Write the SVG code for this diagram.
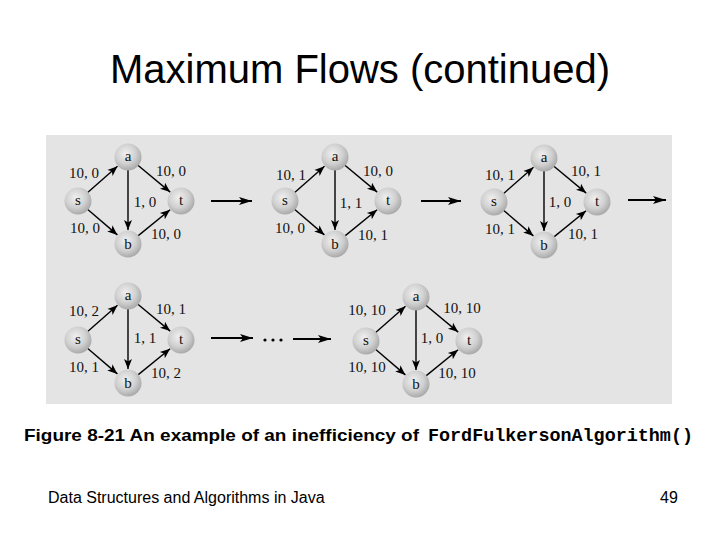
<svg xmlns="http://www.w3.org/2000/svg" width="720" height="540" viewBox="0 0 720 540">
<style>
.title{font-family:"Liberation Sans",Arial,sans-serif;font-size:40px;fill:#000}
.cap{font-family:"Liberation Sans",Arial,sans-serif;font-size:17px;font-weight:bold;fill:#000}
.code{font-family:"Liberation Mono","Courier New",monospace;font-size:18px;font-weight:bold;fill:#000}
.foot{font-family:"Liberation Sans",Arial,sans-serif;font-size:16px;fill:#000}
.lbl{font-family:"Liberation Serif","Times New Roman",serif;font-size:15px;fill:#111;text-anchor:middle}
.nl{font-family:"Liberation Serif","Times New Roman",serif;font-size:15px;fill:#111;text-anchor:middle}
.e{stroke:#000;stroke-width:1.4;fill:none;marker-end:url(#ah)}
.big{stroke:#000;stroke-width:2.2;fill:none;marker-end:url(#bh)}
.nd{fill:url(#sph)}
</style>
<defs>
<radialGradient id="sph" cx="0.42" cy="0.38" r="0.62">
<stop offset="0" stop-color="#f0f0f0"/>
<stop offset="0.6" stop-color="#d0d0d0"/>
<stop offset="1" stop-color="#aaaaaa"/>
</radialGradient>
<marker id="ah" markerUnits="userSpaceOnUse" markerWidth="12" markerHeight="10" viewBox="0 0 12 10" refX="10" refY="5" orient="auto">
<path d="M0,1 L10,5 L0,9 L2.5,5 Z" fill="#000"/>
</marker>
<marker id="bh" markerUnits="userSpaceOnUse" markerWidth="14" markerHeight="10" viewBox="0 0 14 10" refX="13" refY="5" orient="auto">
<path d="M0,1 L13,5 L0,9 L3,5 Z" fill="#000"/>
</marker>
<g id="edges-t">
<line class="e" x1="-40.6" y1="35.7" x2="-10.5" y2="9.3"/>
<line class="e" x1="9.6" y1="8" x2="42.2" y2="35.1"/>
<line class="e" x1="-40.5" y1="52.2" x2="-10.6" y2="77.9"/>
<line class="e" x1="9.7" y1="79.1" x2="42.1" y2="52.8"/>
<line class="e" x1="0" y1="12.5" x2="0" y2="73"/>
</g>
</defs>

<text class="title" x="360" y="83" text-anchor="middle">Maximum Flows (continued)</text>

<rect x="46" y="135" width="626" height="269" fill="#e4e4e4"/>

<g id="connectors">
<use href="#edges-t" transform="translate(128,157)"/>
<use href="#edges-t" transform="translate(335,157)"/>
<use href="#edges-t" transform="translate(544,158)"/>
<use href="#edges-t" transform="translate(128,296)"/>
<use href="#edges-t" transform="translate(416,297)"/>
<line class="big" x1="211" y1="201" x2="252" y2="201"/>
<line class="big" x1="421" y1="201" x2="461" y2="201"/>
<line class="big" x1="628" y1="200" x2="666" y2="200"/>
<line class="big" x1="211" y1="338" x2="253" y2="338"/>
<line class="big" x1="293" y1="339" x2="331" y2="339"/>
<circle cx="265" cy="340" r="1.6" fill="#000"/>
<circle cx="273" cy="340" r="1.6" fill="#000"/>
<circle cx="281" cy="340" r="1.6" fill="#000"/>
</g>

<g id="g1" transform="translate(128,157)">
<g id="g1-a"><circle class="nd" cx="0" cy="0" r="13.5"/><text class="nl" x="0" y="4">a</text></g>
<g id="g1-s"><circle class="nd" cx="-50" cy="44" r="13.5"/><text class="nl" x="-50" y="48">s</text></g>
<g id="g1-t"><circle class="nd" cx="53" cy="44" r="13.5"/><text class="nl" x="53" y="48">t</text></g>
<g id="g1-b"><circle class="nd" cx="0" cy="87" r="13.5"/><text class="nl" x="0" y="92">b</text></g>
<text class="lbl" x="-44" y="21">10, 0</text>
<text class="lbl" x="43" y="19">10, 0</text>
<text class="lbl" x="17" y="50">1, 0</text>
<text class="lbl" x="-43" y="76">10, 0</text>
<text class="lbl" x="38" y="82">10, 0</text>
</g>

<g id="g2" transform="translate(335,157)">
<g id="g2-a"><circle class="nd" cx="0" cy="0" r="13.5"/><text class="nl" x="0" y="4">a</text></g>
<g id="g2-s"><circle class="nd" cx="-50" cy="44" r="13.5"/><text class="nl" x="-50" y="48">s</text></g>
<g id="g2-t"><circle class="nd" cx="53" cy="44" r="13.5"/><text class="nl" x="53" y="48">t</text></g>
<g id="g2-b"><circle class="nd" cx="0" cy="87" r="13.5"/><text class="nl" x="0" y="92">b</text></g>
<text class="lbl" x="-44" y="23">10, 1</text>
<text class="lbl" x="43" y="19">10, 0</text>
<text class="lbl" x="16" y="51">1, 1</text>
<text class="lbl" x="-45" y="76">10, 0</text>
<text class="lbl" x="38" y="83">10, 1</text>
</g>

<g id="g3" transform="translate(544,158)">
<g id="g3-a"><circle class="nd" cx="0" cy="0" r="13.5"/><text class="nl" x="0" y="4">a</text></g>
<g id="g3-s"><circle class="nd" cx="-50" cy="44" r="13.5"/><text class="nl" x="-50" y="48">s</text></g>
<g id="g3-t"><circle class="nd" cx="53" cy="44" r="13.5"/><text class="nl" x="53" y="48">t</text></g>
<g id="g3-b"><circle class="nd" cx="0" cy="87" r="13.5"/><text class="nl" x="0" y="92">b</text></g>
<text class="lbl" x="-44" y="22">10, 1</text>
<text class="lbl" x="42" y="18">10, 1</text>
<text class="lbl" x="16" y="49">1, 0</text>
<text class="lbl" x="-44" y="76">10, 1</text>
<text class="lbl" x="39" y="81">10, 1</text>
</g>

<g id="g4" transform="translate(128,296)">
<g id="g4-a"><circle class="nd" cx="0" cy="0" r="13.5"/><text class="nl" x="0" y="4">a</text></g>
<g id="g4-s"><circle class="nd" cx="-50" cy="44" r="13.5"/><text class="nl" x="-50" y="48">s</text></g>
<g id="g4-t"><circle class="nd" cx="53" cy="44" r="13.5"/><text class="nl" x="53" y="48">t</text></g>
<g id="g4-b"><circle class="nd" cx="0" cy="87" r="13.5"/><text class="nl" x="0" y="92">b</text></g>
<text class="lbl" x="-44" y="20">10, 2</text>
<text class="lbl" x="43" y="18">10, 1</text>
<text class="lbl" x="17" y="47">1, 1</text>
<text class="lbl" x="-44" y="76">10, 1</text>
<text class="lbl" x="38" y="82">10, 2</text>
</g>

<g id="g5" transform="translate(416,297)">
<g id="g5-a"><circle class="nd" cx="0" cy="0" r="13.5"/><text class="nl" x="0" y="4">a</text></g>
<g id="g5-s"><circle class="nd" cx="-50" cy="44" r="13.5"/><text class="nl" x="-50" y="48">s</text></g>
<g id="g5-t"><circle class="nd" cx="53" cy="44" r="13.5"/><text class="nl" x="53" y="48">t</text></g>
<g id="g5-b"><circle class="nd" cx="0" cy="87" r="13.5"/><text class="nl" x="0" y="92">b</text></g>
<text class="lbl" x="-49" y="18">10, 10</text>
<text class="lbl" x="46" y="16">10, 10</text>
<text class="lbl" x="16" y="46">1, 0</text>
<text class="lbl" x="-49" y="75">10, 10</text>
<text class="lbl" x="41" y="81">10, 10</text>
</g>

<text class="cap" x="24" y="441" textLength="395" lengthAdjust="spacingAndGlyphs">Figure 8-21 An example of an inefficiency of</text>
<text class="code" x="428" y="441" textLength="265" lengthAdjust="spacingAndGlyphs">FordFulkersonAlgorithm()</text>

<text class="foot" x="48" y="503">Data Structures and Algorithms in Java</text>
<text class="foot" x="660" y="503">49</text>
</svg>
